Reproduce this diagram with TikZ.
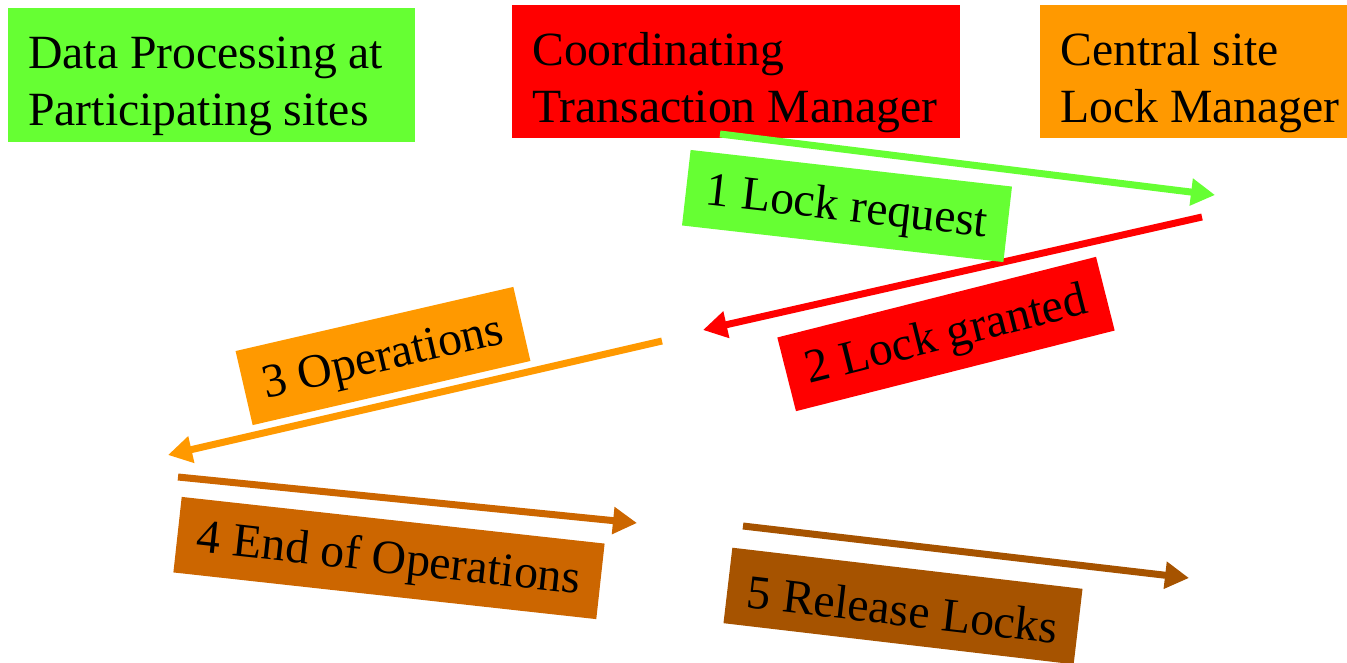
\documentclass[tikz,border=0pt]{standalone}
\usepackage{fontspec}
\setmainfont{Liberation Serif}
\usetikzlibrary{arrows.meta}
\definecolor{cgreen}{HTML}{66FF33}
\definecolor{cred}{HTML}{FF0000}
\definecolor{corange}{HTML}{FF9900}
\definecolor{cdarkor}{HTML}{CC6600}
\definecolor{cbrown}{HTML}{A65300}
\newcommand{\topstrut}{\rule{0pt}{54pt}}
\tikzset{
  headbox/.style={anchor=north west, inner xsep=20pt, inner ysep=0pt, align=flush left,
    font=\fontsize{47.7}{57}\selectfont, text=black},
  lbl/.style={inner xsep=20pt, inner ysep=0pt, minimum height=76pt,
    font=\fontsize{47.7}{56}\selectfont, text=black},
  flow/.style={line width=7pt, -{Triangle[length=24pt,width=26pt]}}
}
\begin{document}
\begin{tikzpicture}[x=1pt,y=-1pt]
\useasboundingbox (0,0) rectangle (1347,662);
% header boxes
\node[headbox, fill=cgreen, text width=367pt, minimum height=134pt] (dp) at (8,8)
  {\topstrut Data Processing at\\Participating sites};
\node[headbox, fill=cred, text width=408pt, minimum height=133pt] (ctm) at (512,5)
  {\topstrut Coordinating\\\mbox{Transaction Manager}};
\node[headbox, fill=corange, text width=267pt, minimum height=133pt] (clm) at (1040,5)
  {\topstrut Central site\\\mbox{Lock Manager}};
% arrow end points
\coordinate (a1s) at (720,134);
\coordinate (a1e) at (1215,195);
\coordinate (a2s) at (1202,217);
\coordinate (a2e) at (703,330);
\coordinate (a3s) at (662,341);
\coordinate (a3e) at (168,455);
\coordinate (a4s) at (178,477);
\coordinate (a4e) at (637,523);
\coordinate (a5s) at (743,526);
\coordinate (a5e) at (1189,578);
% arrows
\draw[flow, cgreen] (a1s) -- (a1e);
\draw[flow, cred] (a2s) -- (a2e);
\draw[flow, corange] (a3s) -- (a3e);
\draw[flow, cdarkor] (a4s) -- (a4e);
\draw[flow, cbrown] (a5s) -- (a5e);
% labels
\node[lbl, fill=cgreen, rotate=-6.5] (l1) at (847,206) {\rule{0pt}{40pt}1 Lock request};
\node[lbl, fill=cred, rotate=14.2] (l2) at (946,334) {\rule{0pt}{40pt}2 Lock granted};
\node[lbl, fill=corange, rotate=13] (l3) at (383,356) {\rule{0pt}{40pt}3 Operations};
\node[lbl, fill=cdarkor, rotate=-6.3] (l4) at (389,558) {\rule{0pt}{40pt}4 End of Operations};
\node[lbl, fill=cbrown, rotate=-6.7] (l5) at (903,606) {\rule{0pt}{40pt}5 Release Locks};
\end{tikzpicture}
\end{document}
